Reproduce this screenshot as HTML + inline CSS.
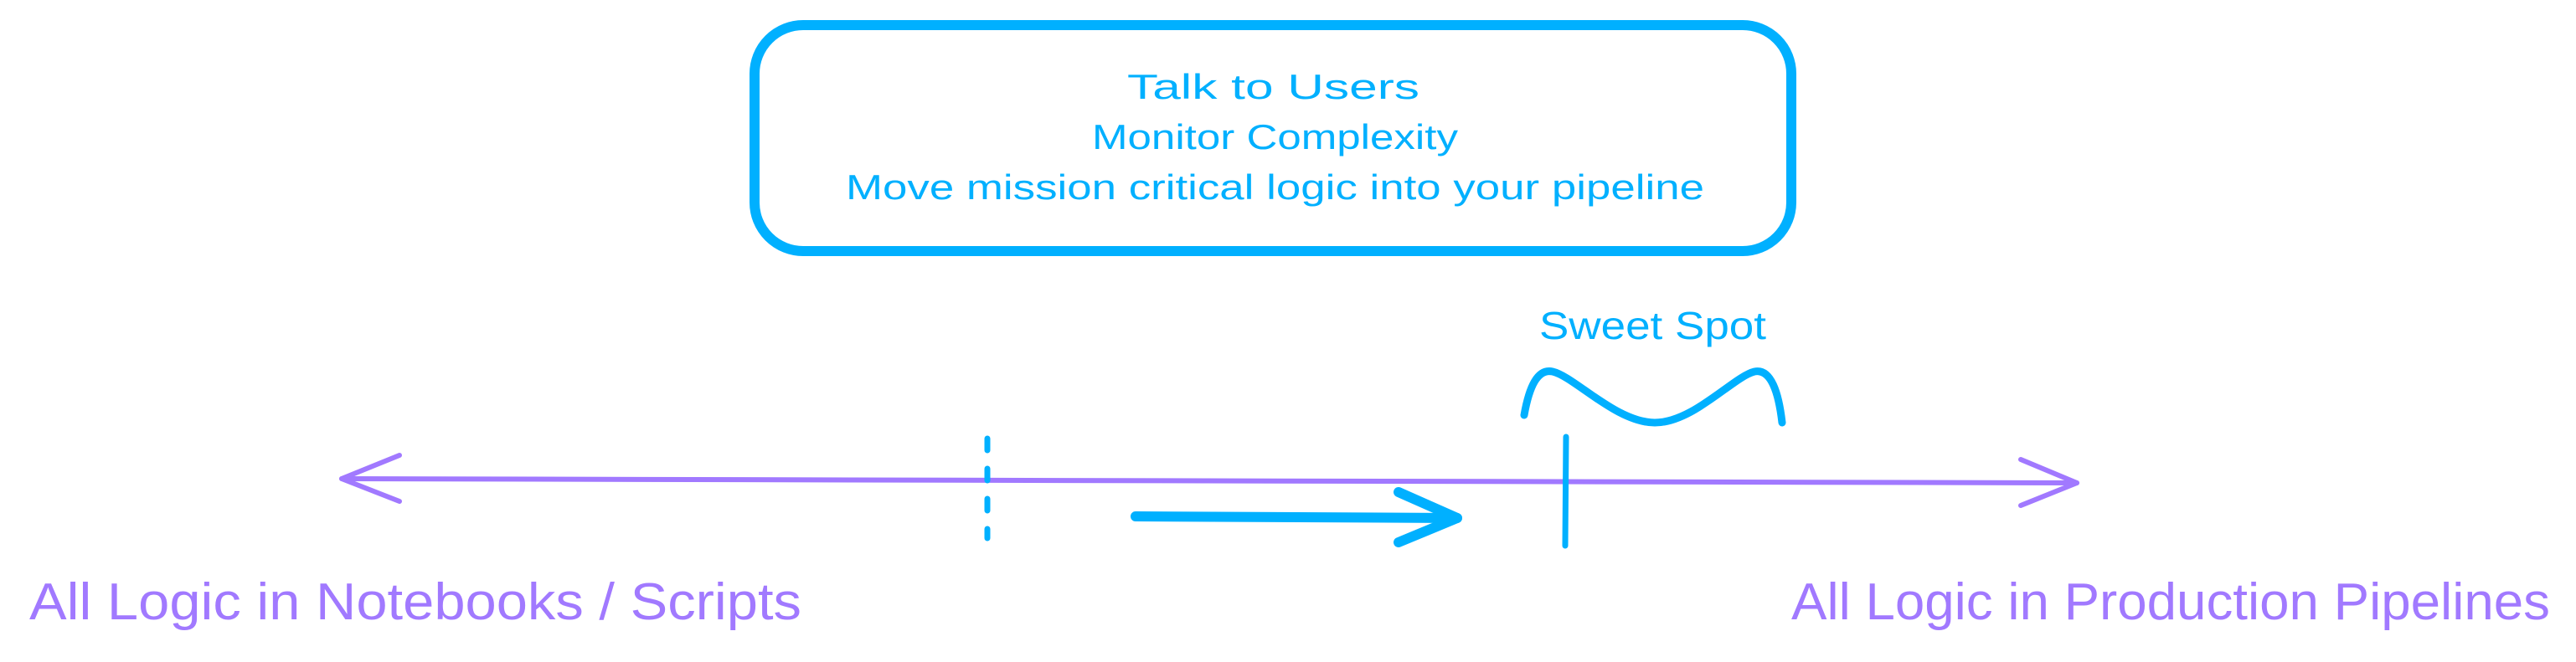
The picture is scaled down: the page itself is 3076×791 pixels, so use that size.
<!DOCTYPE html>
<html><head><meta charset="utf-8"><style>
html,body{margin:0;padding:0;background:#fff;}
svg{display:block;}
text{font-family:"Liberation Sans",sans-serif;}
</style></head><body>
<svg width="3076" height="791" viewBox="0 0 3076 791" xmlns="http://www.w3.org/2000/svg">
<rect x="901" y="30" width="1238" height="270" rx="58" ry="58" fill="none" stroke="#00b0ff" stroke-width="12"/>
<g fill="#00b0ff" font-size="42" text-anchor="start">
<text x="1346" y="118" textLength="349" lengthAdjust="spacingAndGlyphs">Talk to Users</text>
<text x="1304" y="178" textLength="437" lengthAdjust="spacingAndGlyphs">Monitor Complexity</text>
<text x="1010" y="238" textLength="1025" lengthAdjust="spacingAndGlyphs">Move mission critical logic into your pipeline</text>
<text x="1838" y="405" font-size="46" textLength="271" lengthAdjust="spacingAndGlyphs">Sweet Spot</text>
</g>
<g fill="none" stroke="#a179ff" stroke-width="6" stroke-linecap="round" stroke-linejoin="round">
<line x1="408" y1="572" x2="2480" y2="577"/>
<polyline points="477,544 408,572 477,599"/>
<polyline points="2413,549 2480,577 2413,604"/>
</g>
<line x1="1179" y1="524" x2="1179" y2="643" stroke="#00b0ff" stroke-width="7" stroke-dasharray="14,22" stroke-linecap="round"/>
<line x1="1870" y1="522" x2="1869" y2="652" stroke="#00b0ff" stroke-width="7" stroke-linecap="round"/>
<g fill="none" stroke="#00b0ff" stroke-width="12" stroke-linecap="round" stroke-linejoin="round">
<line x1="1356" y1="617" x2="1740" y2="619"/>
<polyline points="1670,588 1740,619 1670,648"/>
</g>
<path d="M1820,496 C1826,462 1836,440 1854,444 C1880,450 1930,505 1976,505 C2022,505 2070,450 2095,444 C2115,440 2124,470 2128,505" fill="none" stroke="#00b0ff" stroke-width="9" stroke-linecap="round"/>
<g fill="#a179ff" font-size="62">
<text x="35" y="740" textLength="922" lengthAdjust="spacingAndGlyphs">All Logic in Notebooks / Scripts</text>
<text x="2139" y="740" textLength="906" lengthAdjust="spacingAndGlyphs">All Logic in Production Pipelines</text>
</g>
</svg>
</body></html>
